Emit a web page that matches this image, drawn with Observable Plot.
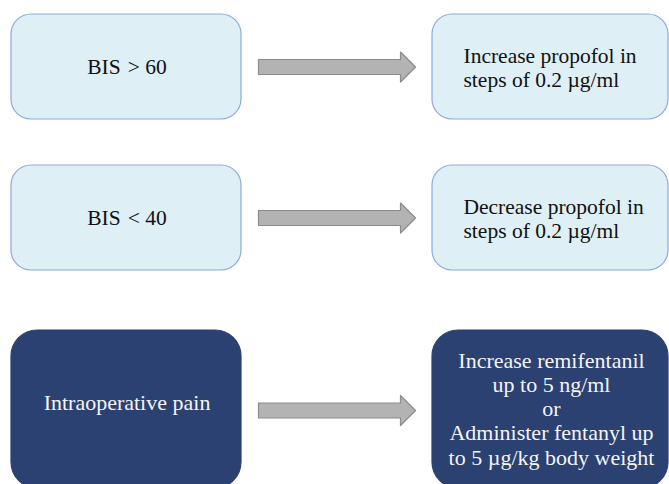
<!DOCTYPE html>
<html><head><meta charset="utf-8">
<script src="https://cdn.jsdelivr.net/npm/d3@7"></script>
<script src="https://cdn.jsdelivr.net/npm/@observablehq/plot@0.6"></script>
<style>body{margin:0;background:#fff;}</style>
</head><body><div id="chart"></div>
<script>
// Data
const conditions = ["BIS\u00a0\u200a> 60", "BIS\u00a0\u200a< 40", "Intraoperative pain"];
const actions = [
  "Increase propofol in\nsteps of 0.2 µg/ml",
  "Decrease propofol in\nsteps of 0.2 µg/ml",
  "Increase remifentanil\nup to 5 ng/ml\nor\nAdminister fentanyl up\nto 5 µg/kg body weight"
];
const kinds = ["light", "light", "dark"];

// Layout
const W = 669, H = 484;
const rowsTop = [14, 165, 330];
const rowsBot = [119, 270, 488];
const leftBox = [11, 241], rightBox = [432, 668];
const fills = {light: "#deeff5", dark: "#2b4171"};
const strokes = {light: "#8eaadc", dark: "#2b4171"};
const textCol = {light: "#111", dark: "#f4f4f4"};

const rows = conditions.map((c, i) => ({
  cond: c, act: actions[i], kind: kinds[i],
  y1: rowsTop[i], y2: rowsBot[i],
  cy: i < 2 ? (rowsTop[i] + rowsBot[i]) / 2 : 408
}));
const boxes = rows.flatMap(r => [
  {x1: leftBox[0], x2: leftBox[1], y1: r.y1, y2: r.y2, kind: r.kind},
  {x1: rightBox[0], x2: rightBox[1], y1: r.y1, y2: r.y2, kind: r.kind}
]);
function arrowPts(r, i) {
  const x0 = 258, xs = 400, xt = 415, hs = 7.5, hh = 15, cy = r.cy + (i === 2 ? 2 : 0);
  return [[x0, cy - hs], [xs, cy - hs], [xs, cy - hh], [xt, cy], [xs, cy + hh], [xs, cy + hs], [x0, cy + hs], [x0, cy - hs]]
    .map(([x, y]) => ({x, y, id: i}));
}
const arrows = rows.flatMap(arrowPts);

const font = "'Liberation Serif', 'Times New Roman', serif";
const chart = Plot.plot({
  width: W, height: H,
  margin: 0,
  x: {domain: [0, W], axis: null},
  y: {domain: [0, H], axis: null, range: [0, H]},
  style: {fontFamily: font, background: "#fff"},
  marks: [
    ...["light", "dark"].map(k => Plot.rect(boxes.filter(b => b.kind === k), {
      x1: "x1", x2: "x2", y1: "y1", y2: "y2",
      fill: fills[k], stroke: strokes[k], strokeWidth: 1.2,
      rx: k === "light" ? 20 : 26
    })),
    Plot.line(arrows, {x: "x", y: "y", z: "id", fill: "#b3b3b3", stroke: "#8b8b8b", strokeWidth: 1.2, curve: "linear-closed"}),
    Plot.text(rows, {
      x: (leftBox[0] + leftBox[1]) / 2 + 0.5, y: d => d.kind === "dark" ? 402 : d.cy,
      text: "cond", fontSize: d => d.kind === "dark" ? 22 : 21.5, fill: d => textCol[d.kind], fontFamily: font
    }),
    Plot.text(rows.filter(d => d.kind === "light"), {
      x: 463, y: "cy", text: "act", textAnchor: "start", lineHeight: 1.115,
      fontSize: 21.5, fill: "#111", fontFamily: font
    }),
    Plot.text(rows.filter(d => d.kind === "dark"), {
      x: 551, y: d => d.cy, text: "act", lineHeight: 1.1,
      fontSize: 22, fill: "#f4f4f4", fontFamily: font
    })
  ]
});
document.getElementById("chart").append(chart);
</script>
</body></html>
